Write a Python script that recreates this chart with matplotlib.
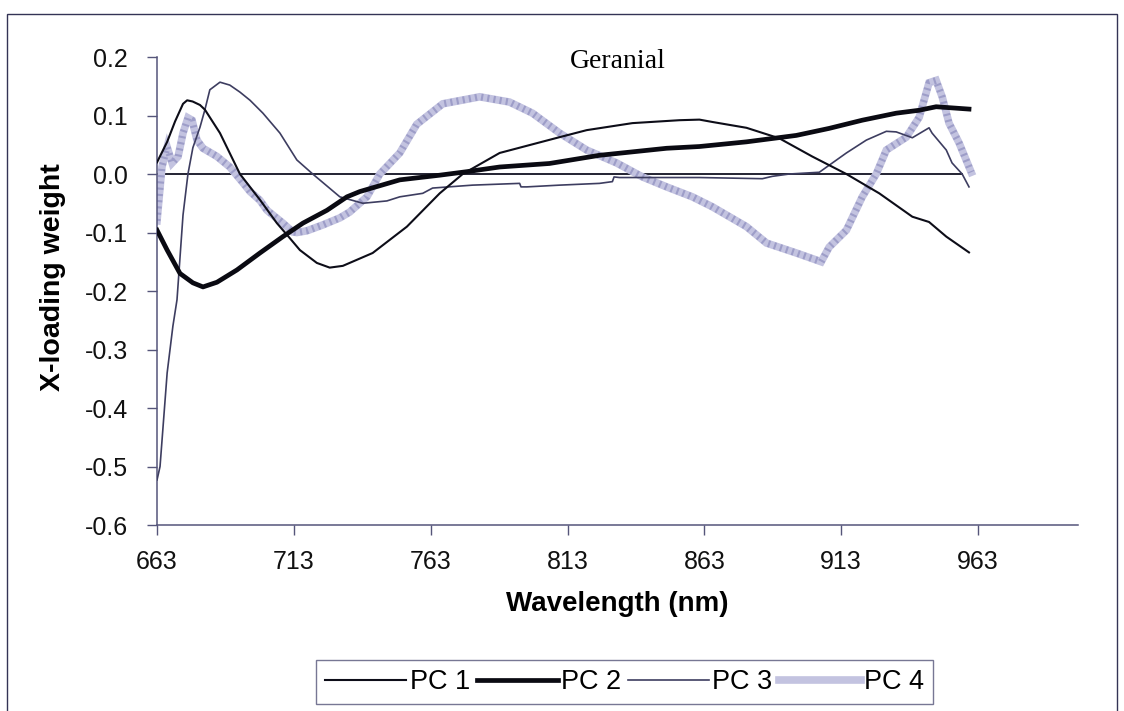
import matplotlib
matplotlib.use("Agg")
import matplotlib.pyplot as plt
from matplotlib.patches import Rectangle

# values (wavelength in nm, x-loading weight)
pc1_wl = [663, 666.7, 669.6, 672.5, 674, 676, 678.7, 680.5, 686, 693.3, 700.6, 706.8,
          710.5, 715.2, 721.4, 726.1, 730.9, 741.8, 754.3, 766.3, 774.7, 788.2, 810.1,
          820, 836.7, 853.9, 861.2, 865.9, 878.4, 890.4, 902.4, 914.9, 926.9, 939,
          945.1, 951.4, 959.7]
pc1_val = [0.02, 0.055, 0.09, 0.12, 0.126, 0.124, 0.118, 0.11, 0.07, 0.0, -0.044, -0.084,
           -0.104, -0.13, -0.152, -0.16, -0.157, -0.135, -0.09, -0.033, 0.0, 0.036, 0.063,
           0.075, 0.087, 0.092, 0.093, 0.089, 0.079, 0.061, 0.03, 0.0, -0.033, -0.073,
           -0.082, -0.107, -0.134]

pc2_wl = [663, 666.7, 671.4, 676.1, 679.8, 684.9, 692.2, 700.6, 709, 716.3, 725.1, 732.4,
          737.1, 751.7, 766.3, 776.2, 788.2, 806.4, 824.7, 849.2, 861.2, 878.4, 896.6,
          908.6, 920.7, 933.1, 941.5, 947.7, 959.7]
pc2_val = [-0.096, -0.13, -0.17, -0.186, -0.193, -0.185, -0.164, -0.135, -0.107, -0.084,
           -0.062, -0.039, -0.03, -0.01, -0.002, 0.004, 0.012, 0.018, 0.032, 0.044, 0.047,
           0.055, 0.066, 0.078, 0.092, 0.104, 0.109, 0.115, 0.111]

pc3_wl = [663, 664.1, 666.7, 668.8, 670.3, 672.5, 674.3, 676.1, 678.7, 680.5, 682.3, 686,
          689.6, 693.3, 697, 701.7, 707.9, 714.1, 719.9, 729.8, 738.2, 747, 751.7, 760.1,
          763.7, 778.3, 795.5, 796, 798.1, 810.1, 824.7, 829.4, 830, 832, 861.2, 884.2,
          887.8, 894, 905, 914.9, 922.2, 929.5, 933.1, 939, 945.1, 946.2, 951.4, 953.5,
          957.2, 959.7]
pc3_val = [-0.523, -0.5, -0.34, -0.26, -0.215, -0.07, 0.0, 0.045, 0.08, 0.11, 0.144, 0.157,
           0.152, 0.14, 0.126, 0.104, 0.07, 0.024, 0.0, -0.039, -0.05, -0.046, -0.039, -0.033,
           -0.024, -0.019, -0.016, -0.022, -0.022, -0.019, -0.016, -0.013, -0.005, -0.006,
           -0.006, -0.008, -0.004, 0.0, 0.003, 0.036, 0.058, 0.073, 0.072, 0.062, 0.079,
           0.07, 0.041, 0.019, 0.0, -0.022]

pc4_wl = [663, 664.8, 666.7, 668.5, 670.7, 672.5, 674.3, 675.8, 677.6, 679.8, 684.9, 689.6,
          694.4, 697, 700.6, 703.2, 709, 712.6, 714.1, 717.8, 723.6, 729.8, 733.4, 739.7,
          744.4, 751.7, 757.9, 767.4, 780.9, 791.8, 800.2, 810.1, 820, 830.9, 840.4,
          849.2, 858.6, 865.9, 878.4, 885.7, 896.6, 905.7, 908.6, 914.9, 920.7, 925.8,
          929.5, 936.8, 941.5, 945.1, 947.7, 949.9, 952.4, 956.1, 960.5]
pc4_val = [-0.08, 0.012, 0.046, 0.019, 0.03, 0.07, 0.096, 0.092, 0.058, 0.044, 0.03, 0.012,
           -0.015, -0.03, -0.045, -0.062, -0.084, -0.099, -0.1, -0.097, -0.087, -0.075,
           -0.065, -0.039, 0.0, 0.036, 0.085, 0.12, 0.132, 0.123, 0.104, 0.07, 0.041,
           0.019, -0.005, -0.022, -0.039, -0.056, -0.09, -0.118, -0.135, -0.15, -0.125,
           -0.096, -0.039, 0.0, 0.041, 0.063, 0.097, 0.156, 0.16, 0.132, 0.087, 0.053, 0.003]

zero_wl = [663, 957]
zero_val = [0, 0]

x_ticks = [663, 713, 763, 813, 863, 913, 963]
y_ticks = [-0.6, -0.5, -0.4, -0.3, -0.2, -0.1, 0.0, 0.1, 0.2]

plt.rcParams['font.family'] = ['Liberation Sans', 'DejaVu Sans']

fig = plt.figure(figsize=(11.24, 7.11), dpi=100)
ax = fig.add_axes([0.1397, 0.2616, 0.8193, 0.6582])

axis_col = '#55557a'

ax.plot(zero_wl, zero_val, color='#111122', lw=1.3, zorder=1)
l4, = ax.plot(pc4_wl, pc4_val, color='#c3c3e0', lw=5.5, solid_joinstyle='miter', zorder=2, label='PC 4')
ax.plot(pc4_wl, pc4_val, color='#9d9dc8', lw=5.0, ls=(0, (0.3, 0.6)), zorder=2)
l3, = ax.plot(pc3_wl, pc3_val, color='#3d3d60', lw=1.2, zorder=3, label='PC 3')
l1, = ax.plot(pc1_wl, pc1_val, color='#0d0d18', lw=1.5, zorder=4, label='PC 1')
l2, = ax.plot(pc2_wl, pc2_val, color='#0a0a12', lw=3.4, zorder=4, label='PC 2')

ax.set_xlim(663, 999.5)
ax.set_ylim(-0.6, 0.2)
ax.set_xticks(x_ticks)
ax.set_yticks(y_ticks)
ax.set_yticklabels([f'{v:.1f}' for v in y_ticks])
ax.tick_params(axis='both', labelsize=18, colors=axis_col, labelcolor='#111111',
               direction='out', length=7, width=1.0)
ax.tick_params(axis='x', pad=11)
ax.tick_params(axis='y', pad=14)

for side in ['top', 'right']:
    ax.spines[side].set_visible(False)
for side in ['left', 'bottom']:
    ax.spines[side].set_color(axis_col)
    ax.spines[side].set_linewidth(1.1)

ax.set_xlabel('Wavelength (nm)', fontsize=20, fontweight='bold', labelpad=12)
ax.set_ylabel('X-loading weight', fontsize=20.5, fontweight='bold')
ax.yaxis.set_label_coords(-0.099, 0.53)

ax.text(0.5, 0.99, 'Geranial', transform=ax.transAxes, ha='center', va='center',
        fontsize=20, family=['Liberation Serif', 'DejaVu Serif'])

leg = fig.legend(handles=[l1, l2, l3, l4], loc='center', bbox_to_anchor=(0.5556, 0.0408),
                 ncol=4, fontsize=19.5, frameon=True, fancybox=False, handlelength=3.0,
                 handletextpad=0.12, columnspacing=0.25, borderpad=0.35, borderaxespad=0)
leg.get_frame().set_edgecolor(axis_col)
leg.get_frame().set_linewidth(1.0)

# outer chart frame
fig.patches.append(Rectangle((7 / 1124, -0.02), 1110 / 1124, 1 - 14 / 711 + 0.02,
                             transform=fig.transFigure, fill=False,
                             edgecolor='#333355', lw=1.0))

fig.savefig('out.png', dpi=100)
